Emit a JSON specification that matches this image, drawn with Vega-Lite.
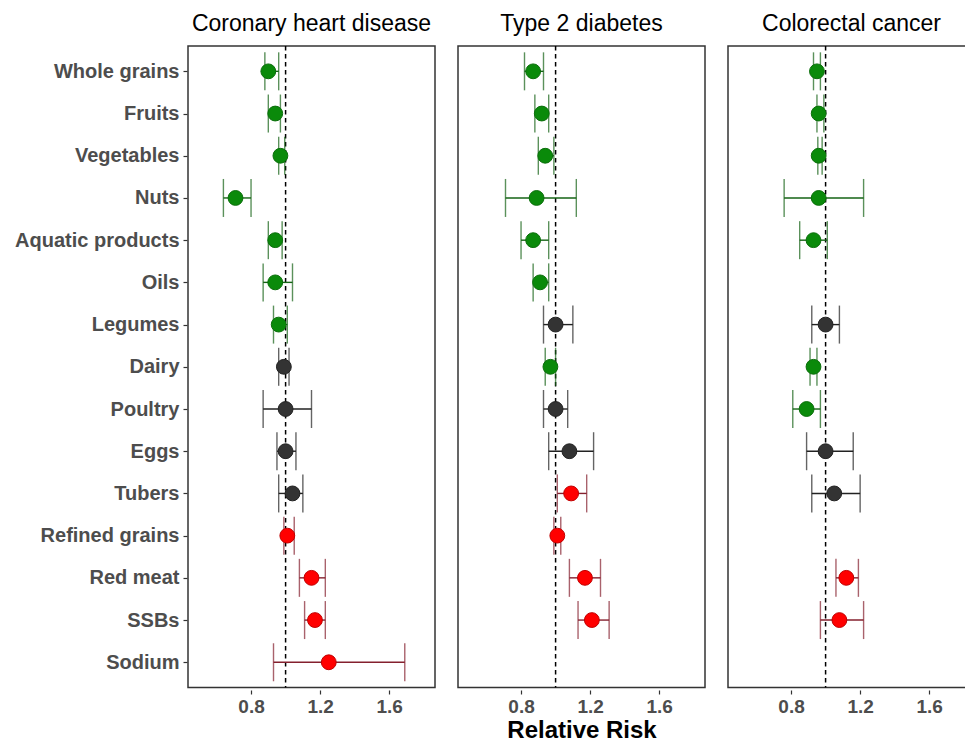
{
  "$schema": "https://vega.github.io/schema/vega-lite/v6.json",
  "padding": {"left": 5, "top": 13, "right": 0, "bottom": 0},
  "background": "white",
  "config": {
    "font": "Liberation Sans",
    "view": {"stroke": "#333333", "strokeWidth": 1.5},
    "axis": {"grid": false, "domain": false, "tickColor": "#333333", "tickSize": 4, "tickWidth": 1.2}
  },
  "data": {"values": [
    {"outcome": "Coronary heart disease", "food": "Whole grains", "rr": 0.90, "lo": 0.88, "hi": 0.96, "group": "protective"},
    {"outcome": "Coronary heart disease", "food": "Fruits", "rr": 0.94, "lo": 0.90, "hi": 0.97, "group": "protective"},
    {"outcome": "Coronary heart disease", "food": "Vegetables", "rr": 0.97, "lo": 0.96, "hi": 0.995, "group": "protective"},
    {"outcome": "Coronary heart disease", "food": "Nuts", "rr": 0.71, "lo": 0.64, "hi": 0.80, "group": "protective"},
    {"outcome": "Coronary heart disease", "food": "Aquatic products", "rr": 0.94, "lo": 0.90, "hi": 0.98, "group": "protective"},
    {"outcome": "Coronary heart disease", "food": "Oils", "rr": 0.94, "lo": 0.87, "hi": 1.04, "group": "protective"},
    {"outcome": "Coronary heart disease", "food": "Legumes", "rr": 0.96, "lo": 0.93, "hi": 1.01, "group": "protective"},
    {"outcome": "Coronary heart disease", "food": "Dairy", "rr": 0.99, "lo": 0.96, "hi": 1.02, "group": "null"},
    {"outcome": "Coronary heart disease", "food": "Poultry", "rr": 1.00, "lo": 0.87, "hi": 1.15, "group": "null"},
    {"outcome": "Coronary heart disease", "food": "Eggs", "rr": 1.00, "lo": 0.95, "hi": 1.06, "group": "null"},
    {"outcome": "Coronary heart disease", "food": "Tubers", "rr": 1.04, "lo": 0.96, "hi": 1.10, "group": "null"},
    {"outcome": "Coronary heart disease", "food": "Refined grains", "rr": 1.01, "lo": 0.99, "hi": 1.05, "group": "harmful"},
    {"outcome": "Coronary heart disease", "food": "Red meat", "rr": 1.15, "lo": 1.08, "hi": 1.23, "group": "harmful"},
    {"outcome": "Coronary heart disease", "food": "SSBs", "rr": 1.17, "lo": 1.11, "hi": 1.23, "group": "harmful"},
    {"outcome": "Coronary heart disease", "food": "Sodium", "rr": 1.25, "lo": 0.93, "hi": 1.69, "group": "harmful"},
    {"outcome": "Type 2 diabetes", "food": "Whole grains", "rr": 0.87, "lo": 0.82, "hi": 0.93, "group": "protective"},
    {"outcome": "Type 2 diabetes", "food": "Fruits", "rr": 0.92, "lo": 0.88, "hi": 0.96, "group": "protective"},
    {"outcome": "Type 2 diabetes", "food": "Vegetables", "rr": 0.94, "lo": 0.90, "hi": 0.99, "group": "protective"},
    {"outcome": "Type 2 diabetes", "food": "Nuts", "rr": 0.89, "lo": 0.71, "hi": 1.12, "group": "protective"},
    {"outcome": "Type 2 diabetes", "food": "Aquatic products", "rr": 0.87, "lo": 0.80, "hi": 0.96, "group": "protective"},
    {"outcome": "Type 2 diabetes", "food": "Oils", "rr": 0.91, "lo": 0.87, "hi": 0.96, "group": "protective"},
    {"outcome": "Type 2 diabetes", "food": "Legumes", "rr": 1.00, "lo": 0.93, "hi": 1.10, "group": "null"},
    {"outcome": "Type 2 diabetes", "food": "Dairy", "rr": 0.97, "lo": 0.94, "hi": 1.00, "group": "protective"},
    {"outcome": "Type 2 diabetes", "food": "Poultry", "rr": 1.00, "lo": 0.93, "hi": 1.07, "group": "null"},
    {"outcome": "Type 2 diabetes", "food": "Eggs", "rr": 1.08, "lo": 0.96, "hi": 1.22, "group": "null"},
    {"outcome": "Type 2 diabetes", "food": "Tubers", "rr": 1.09, "lo": 1.01, "hi": 1.18, "group": "harmful"},
    {"outcome": "Type 2 diabetes", "food": "Refined grains", "rr": 1.01, "lo": 0.99, "hi": 1.03, "group": "harmful"},
    {"outcome": "Type 2 diabetes", "food": "Red meat", "rr": 1.17, "lo": 1.08, "hi": 1.26, "group": "harmful"},
    {"outcome": "Type 2 diabetes", "food": "SSBs", "rr": 1.21, "lo": 1.13, "hi": 1.31, "group": "harmful"},
    {"outcome": "Colorectal cancer", "food": "Whole grains", "rr": 0.95, "lo": 0.93, "hi": 0.97, "group": "protective"},
    {"outcome": "Colorectal cancer", "food": "Fruits", "rr": 0.96, "lo": 0.95, "hi": 0.99, "group": "protective"},
    {"outcome": "Colorectal cancer", "food": "Vegetables", "rr": 0.96, "lo": 0.955, "hi": 0.98, "group": "protective"},
    {"outcome": "Colorectal cancer", "food": "Nuts", "rr": 0.96, "lo": 0.76, "hi": 1.22, "group": "protective"},
    {"outcome": "Colorectal cancer", "food": "Aquatic products", "rr": 0.93, "lo": 0.85, "hi": 1.01, "group": "protective"},
    {"outcome": "Colorectal cancer", "food": "Legumes", "rr": 1.00, "lo": 0.92, "hi": 1.08, "group": "null"},
    {"outcome": "Colorectal cancer", "food": "Dairy", "rr": 0.93, "lo": 0.91, "hi": 0.95, "group": "protective"},
    {"outcome": "Colorectal cancer", "food": "Poultry", "rr": 0.89, "lo": 0.81, "hi": 0.97, "group": "protective"},
    {"outcome": "Colorectal cancer", "food": "Eggs", "rr": 1.00, "lo": 0.89, "hi": 1.16, "group": "null"},
    {"outcome": "Colorectal cancer", "food": "Tubers", "rr": 1.05, "lo": 0.92, "hi": 1.20, "group": "null"},
    {"outcome": "Colorectal cancer", "food": "Red meat", "rr": 1.12, "lo": 1.06, "hi": 1.19, "group": "harmful"},
    {"outcome": "Colorectal cancer", "food": "SSBs", "rr": 1.08, "lo": 0.97, "hi": 1.22, "group": "harmful"}
  ]},
  "facet": {
    "column": {
      "field": "outcome",
      "type": "nominal",
      "sort": ["Coronary heart disease", "Type 2 diabetes", "Colorectal cancer"],
      "title": "Relative Risk",
      "header": {"labelFontSize": 23, "labelColor": "black", "labelPadding": 8, "labelFont": "Liberation Sans", "labelOrient": "top", "titleOrient": "bottom", "titleFontSize": 24, "titleFontWeight": "bold", "titleColor": "black", "titlePadding": -7, "titleFont": "Liberation Sans"}
    }
  },
  "spacing": 21,
  "resolve": {"axis": {"x": "shared", "y": "shared"}},
  "spec": {
    "width": 247,
    "height": 641.6,
    "encoding": {
      "y": {
        "field": "food",
        "type": "nominal",
        "sort": ["Whole grains", "Fruits", "Vegetables", "Nuts", "Aquatic products", "Oils", "Legumes", "Dairy", "Poultry", "Eggs", "Tubers", "Refined grains", "Red meat", "SSBs", "Sodium"],
        "scale": {"type": "point", "padding": 0.6, "domain": ["Whole grains", "Fruits", "Vegetables", "Nuts", "Aquatic products", "Oils", "Legumes", "Dairy", "Poultry", "Eggs", "Tubers", "Refined grains", "Red meat", "SSBs", "Sodium"]},
        "axis": {"title": null, "labelFontSize": 20, "labelFontWeight": "bold", "labelColor": "#4D4D4D", "labelPadding": 4, "minExtent": 182, "maxExtent": 182}
      }
    },
    "layer": [
      {
        "transform": [{"filter": "datum.food === 'Whole grains'"}],
        "mark": {"type": "rule", "strokeDash": [4.5, 3.5], "strokeWidth": 1.5, "color": "black"},
        "encoding": {"x": {"datum": 1, "type": "quantitative"}, "y": null}
      },
      {
        "mark": {"type": "rule", "strokeWidth": 1.4},
        "encoding": {
          "x": {"field": "lo", "type": "quantitative", "scale": {"domain": [0.435, 1.865], "nice": false, "zero": false},
                "axis": {"values": [0.8, 1.2, 1.6], "format": ".1f", "title": null, "labelFontSize": 19, "labelFontWeight": "bold", "labelColor": "#4D4D4D", "labelPadding": 3}},
          "x2": {"field": "hi"},
          "color": {"field": "group", "type": "nominal", "scale": {"domain": ["protective", "null", "harmful"], "range": ["#156315", "#222222", "#84202E"]}, "legend": null}
        }
      },
      {
        "mark": {"type": "tick", "orient": "vertical", "size": 38, "thickness": 1.4},
        "encoding": {
          "x": {"field": "lo", "type": "quantitative"},
          "color": {"field": "group", "type": "nominal", "legend": null}
        }
      },
      {
        "mark": {"type": "tick", "orient": "vertical", "size": 38, "thickness": 1.4},
        "encoding": {
          "x": {"field": "hi", "type": "quantitative"},
          "color": {"field": "group", "type": "nominal", "legend": null}
        }
      },
      {
        "mark": {"type": "point", "filled": false, "shape": "circle", "size": 220, "strokeWidth": 1, "opacity": 1},
        "encoding": {
          "x": {"field": "rr", "type": "quantitative"},
          "fill": {"field": "group", "type": "nominal", "scale": {"domain": ["protective", "null", "harmful"], "range": ["#0A8A0A", "#333333", "#FF0000"]}, "legend": null},
          "stroke": {"field": "group", "type": "nominal", "scale": {"domain": ["protective", "null", "harmful"], "range": ["#0B6E0B", "#222222", "#C00000"]}, "legend": null}
        }
      }
    ]
  }
}
